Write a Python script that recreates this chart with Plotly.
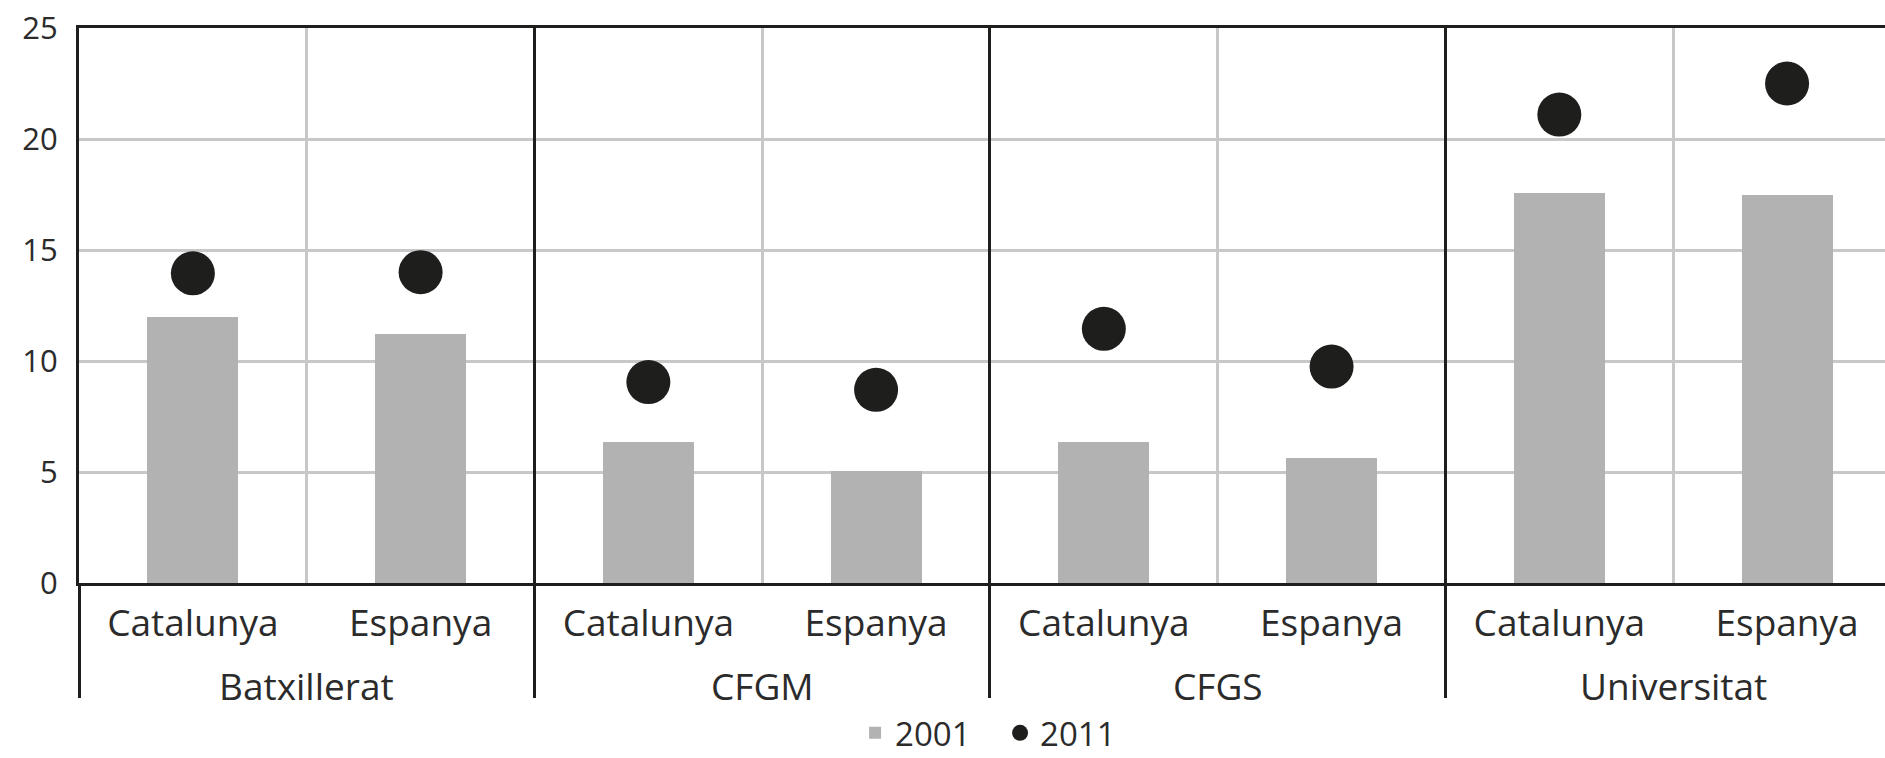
import plotly.graph_objects as go

# ---- data ----
groups = ["Batxillerat", "CFGM", "CFGS", "Universitat"]
regions = ["Catalunya", "Espanya"]
values_2001 = [12.0, 11.2, 6.35, 5.05, 6.35, 5.65, 17.55, 17.5]
values_2011 = [13.95, 14.0, 9.05, 8.7, 11.45, 9.75, 21.1, 22.5]
y_ticks = [0, 5, 10, 15, 20, 25]

n_sub = len(regions)
idx = list(range(len(groups) * n_sub))
sub_labels = [regions[i % n_sub] for i in idx]
group_bounds = [k * n_sub - 0.5 for k in range(len(groups))]
inner_bounds = [k * n_sub + 0.5 for k in range(len(groups))]
group_centers = [k * n_sub + (n_sub - 1) / 2 for k in range(len(groups))]

FONT = "Open Sans"
TXT = "#2b2b2b"
BLACK = "#1e1e1c"
GRID = "#c8c8c8"
X_RANGE = [-0.5, 7.43]

fig = go.Figure()
fig.add_trace(go.Bar(x=idx, y=values_2001, name="2001", width=0.4,
                     marker=dict(color="#b2b2b2", line=dict(width=0))))
fig.add_trace(go.Scatter(x=idx, y=values_2011, name="2011", mode="markers",
                         marker=dict(size=44, color=BLACK)))
# helper trace so the overlay axis (group separators) is drawn
fig.add_trace(go.Scatter(x=[None], y=[None], xaxis="x2", yaxis="y",
                         showlegend=False, hoverinfo="skip"))

annotations = [dict(x=c, y=0, xref="x", yref="paper", text=g, showarrow=False,
                    yanchor="middle", yshift=-102,
                    font=dict(family=FONT, size=37, color=TXT))
               for c, g in zip(group_centers, groups)]

fig.update_layout(
    width=1885, height=758,
    margin=dict(l=79, r=0, t=28, b=175, autoexpand=False),
    plot_bgcolor="white", paper_bgcolor="white",
    font=dict(family=FONT, color=TXT),
    bargap=0,
    xaxis=dict(range=X_RANGE, tickmode="array", tickvals=idx, ticktext=sub_labels,
               tickfont=dict(size=37, color=TXT), ticks="", showgrid=False,
               ticklabelstandoff=6,
               zeroline=False, showline=True, linecolor=BLACK, linewidth=3,
               mirror=True,
               minor=dict(tickmode="array", tickvals=inner_bounds, showgrid=True,
                          gridcolor=GRID, gridwidth=2.5, ticks="")),
    xaxis2=dict(range=X_RANGE, overlaying="x", anchor="y", side="bottom",
                tickmode="array", tickvals=group_bounds, showticklabels=False,
                ticks="outside", ticklen=114, tickwidth=3, tickcolor=BLACK,
                showgrid=True, gridcolor=BLACK, gridwidth=3,
                showline=False, zeroline=False),
    yaxis=dict(range=[0, 25], tickmode="array", tickvals=y_ticks,
               tickfont=dict(size=31, color=TXT), ticks="", showgrid=True,
               ticklabelstandoff=12,
               gridcolor=GRID, gridwidth=2.5, zeroline=False, showline=True,
               linecolor=BLACK, linewidth=3),
    legend=dict(orientation="h", x=0.51, xanchor="center",
                yref="paper", y=-0.27, yanchor="middle",
                font=dict(family=FONT, size=33, color=TXT),
                traceorder="normal", tracegroupgap=0,
                itemwidth=30, entrywidth=100),
    annotations=annotations,
    showlegend=True,
)

fig.write_html("out.html", config={"displayModeBar": False},
               post_script="document.body.style.margin='0';")
